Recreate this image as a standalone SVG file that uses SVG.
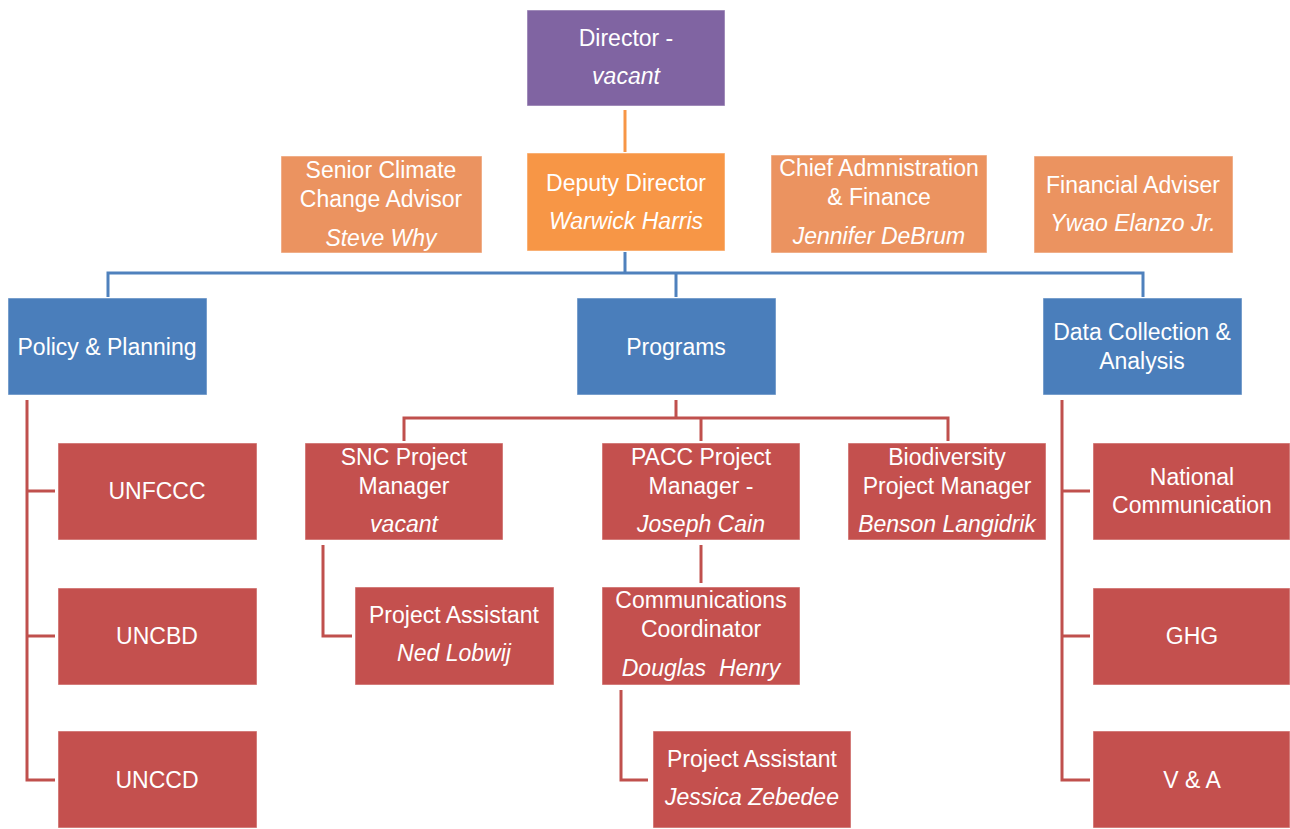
<svg xmlns="http://www.w3.org/2000/svg" width="1290" height="829" viewBox="0 0 1290 829">
<style>
.box{stroke:#ffffff;stroke-opacity:0.5;stroke-width:1}
.purple{fill:#8064A2}
.dep{fill:#F79646}
.adv{fill:#EB9360}
.blue{fill:#4A7EBB}
.red{fill:#C4504E}
text{font-family:"Liberation Sans",Arial,sans-serif;font-size:23px;fill:#ffffff;text-anchor:middle}
.it{font-style:italic}
.lb{fill:none;stroke:#4F81BD;stroke-width:3}
.lr{fill:none;stroke:#C0504D;stroke-width:3}
.lo{fill:none;stroke:#F79646;stroke-width:3}
</style>
<rect width="1290" height="829" fill="#ffffff"/>
<g id="connectors">
<path class="lo" d="M625,110 V152"/>
<path class="lb" d="M625,252 V273 M108,297 V273 H1143 V297 M676,273 V297"/>
<path class="lr" d="M27,400 V780 H55 M27,491 H55 M27,636 H55"/>
<path class="lr" d="M676,400 V418 M404,441 V418 H948 V441 M701,418 V441"/>
<path class="lr" d="M323,545 V636 H352"/>
<path class="lr" d="M701,545 V583"/>
<path class="lr" d="M621,690 V780 H648"/>
<path class="lr" d="M1062,400 V780 H1090 M1062,491 H1090 M1062,636 H1090"/>
</g>
<g id="director"><rect class="box purple" x="527" y="10" width="198" height="96"/><text x="626" y="46">Director -</text><text class="it" x="626" y="84">vacant</text></g>
<g id="deputy"><rect class="box dep" x="527" y="153" width="198" height="98"/><text x="626" y="191">Deputy Director</text><text class="it" x="626" y="229">Warwick Harris</text></g>
<g id="senior"><rect class="box adv" x="281" y="156" width="201" height="97"/><text x="381" y="178">Senior Climate</text><text x="381" y="207">Change Advisor</text><text class="it" x="381" y="246">Steve Why</text></g>
<g id="chief"><rect class="box adv" x="771" y="155" width="216" height="98"/><text x="879" y="176">Chief Admnistration</text><text x="879" y="205">&amp; Finance</text><text class="it" x="879" y="244">Jennifer DeBrum</text></g>
<g id="financial"><rect class="box adv" x="1034" y="156" width="199" height="97"/><text x="1133" y="193">Financial Adviser</text><text class="it" x="1133" y="231">Ywao Elanzo Jr.</text></g>
<g id="policy"><rect class="box blue" x="8" y="298" width="199" height="97"/><text x="107" y="355">Policy &amp; Planning</text></g>
<g id="programs"><rect class="box blue" x="577" y="298" width="199" height="97"/><text x="676" y="355">Programs</text></g>
<g id="data"><rect class="box blue" x="1043" y="298" width="199" height="97"/><text x="1142" y="340">Data Collection &amp;</text><text x="1142" y="369">Analysis</text></g>
<g id="unfccc"><rect class="box red" x="58" y="443" width="199" height="97"/><text x="157" y="499">UNFCCC</text></g>
<g id="uncbd"><rect class="box red" x="58" y="588" width="199" height="97"/><text x="157" y="644">UNCBD</text></g>
<g id="unccd"><rect class="box red" x="58" y="731" width="199" height="97"/><text x="157" y="788">UNCCD</text></g>
<g id="snc"><rect class="box red" x="305" y="443" width="198" height="97"/><text x="404" y="465">SNC Project</text><text x="404" y="494">Manager</text><text class="it" x="404" y="532">vacant</text></g>
<g id="pacc"><rect class="box red" x="602" y="443" width="198" height="97"/><text x="701" y="465">PACC Project</text><text x="701" y="494">Manager -</text><text class="it" x="701" y="532">Joseph Cain</text></g>
<g id="biodiversity"><rect class="box red" x="848" y="443" width="198" height="97"/><text x="947" y="465">Biodiversity</text><text x="947" y="494">Project Manager</text><text class="it" x="947" y="532">Benson Langidrik</text></g>
<g id="pa1"><rect class="box red" x="355" y="587" width="199" height="98"/><text x="454" y="623">Project Assistant</text><text class="it" x="454" y="661">Ned Lobwij</text></g>
<g id="comm"><rect class="box red" x="602" y="587" width="198" height="98"/><text x="701" y="608">Communications</text><text x="701" y="637">Coordinator</text><text class="it" x="701" y="676" xml:space="preserve">Douglas  Henry</text></g>
<g id="pa2"><rect class="box red" x="653" y="731" width="198" height="97"/><text x="752" y="767">Project Assistant</text><text class="it" x="752" y="805">Jessica Zebedee</text></g>
<g id="natcom"><rect class="box red" x="1093" y="443" width="197" height="97"/><text x="1192" y="485">National</text><text x="1192" y="513">Communication</text></g>
<g id="ghg"><rect class="box red" x="1093" y="588" width="197" height="97"/><text x="1192" y="644">GHG</text></g>
<g id="va"><rect class="box red" x="1093" y="731" width="197" height="97"/><text x="1192" y="788">V &amp; A</text></g>
</svg>
